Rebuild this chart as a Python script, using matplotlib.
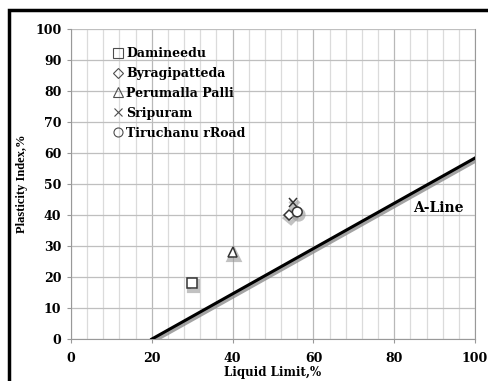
import matplotlib
matplotlib.use("Agg")
import matplotlib.pyplot as plt
import matplotlib.patheffects as pe
from matplotlib.patches import Rectangle
from matplotlib.lines import Line2D
import numpy as np

# sample points (liquid limit, plasticity index)
sites = ["Damineedu", "Byragipatteda", "Perumalla Palli", "Sripuram", "Tiruchanu rRoad"]
liquid_limit = [30, 54, 40, 55, 56]
plasticity_index = [18, 40, 28, 44, 41]
markers = ["s", "D", "^", "x", "o"]

# A-line: PI = 0.73 (LL - 20)
aline_ll = [20, 100]
aline_pi = [0.73 * (ll - 20) for ll in aline_ll]

plt.rcParams["font.family"] = "DejaVu Serif"
plt.rcParams["font.weight"] = "bold"

fig = plt.figure(figsize=(4.88, 3.81), dpi=100)
ax = fig.add_axes([0.1455, 0.11, 0.828, 0.814])

mk_shadow = [pe.SimpleLineShadow(offset=(1, -2), shadow_color="0.6", alpha=0.6, linewidth=3), pe.Normal()]
line_shadow = [pe.SimpleLineShadow(offset=(1, -1.5), shadow_color="0.55", alpha=0.8, linewidth=3), pe.Normal()]

ax.plot(aline_ll, aline_pi, color="black", lw=2.2, path_effects=line_shadow, zorder=3)

sizes = {"s": 7, "D": 5.5, "^": 7, "x": 6, "o": 7}
for name, x, y, m in zip(sites, liquid_limit, plasticity_index, markers):
    ax.plot(x, y, marker=m, ms=sizes[m], mfc="white" if m != "x" else "none", mec="0.2",
            color="0.2", mew=1.1, ls="none", zorder=4, path_effects=mk_shadow)

ax.text(84.6, 41, "A-Line", fontsize=10, fontweight="bold")

ax.set_xlim(0, 100)
ax.set_ylim(0, 100)
ax.set_xticks(np.arange(0, 101, 20))
ax.set_xticks(np.arange(0, 101, 4), minor=True)
ax.set_yticks(np.arange(0, 101, 10))
ax.grid(which="major", axis="x", color="0.72", lw=0.9)
ax.grid(which="minor", axis="x", color="0.86", lw=0.9)
ax.grid(which="major", axis="y", color="0.75", lw=0.9)
ax.tick_params(which="minor", length=0)
ax.tick_params(which="major", length=3, color="0.6", labelsize=9)
ax.tick_params(axis="x", pad=6)
ax.tick_params(axis="y", pad=4)
for lbl in ax.get_xticklabels() + ax.get_yticklabels():
    lbl.set_fontweight("bold")
ax.spines["top"].set_visible(False)
for s in ["left", "bottom", "right"]:
    ax.spines[s].set_color("0.6")

ax.set_xlabel("Liquid Limit,%", fontsize=8.5, fontweight="bold", labelpad=1)
ax.set_ylabel("Plasticity Index,%", fontsize=9, fontweight="bold", labelpad=5, family="Liberation Serif")

# legend with plain, unshadowed markers
handles = [Line2D([], [], marker=m, ms=sizes[m] - 0.5, mfc="none", mec="0.3", color="0.3",
                  mew=0.8, ls="none") for m in markers]
ax.legend(handles, sites, loc="upper left", bbox_to_anchor=(0.085, 0.97), frameon=False,
          handlelength=0.7, handletextpad=0.25, labelspacing=0.55, borderpad=0.2,
          prop={"family": "DejaVu Serif", "weight": "bold", "size": 9})

# outer frame
fig.patches.append(Rectangle((9 / 488, -0.05), 1.2, 1 - 10 / 381 + 0.05, transform=fig.transFigure,
                             fill=False, ec="black", lw=2.5))

fig.savefig("out.png", dpi=100)
